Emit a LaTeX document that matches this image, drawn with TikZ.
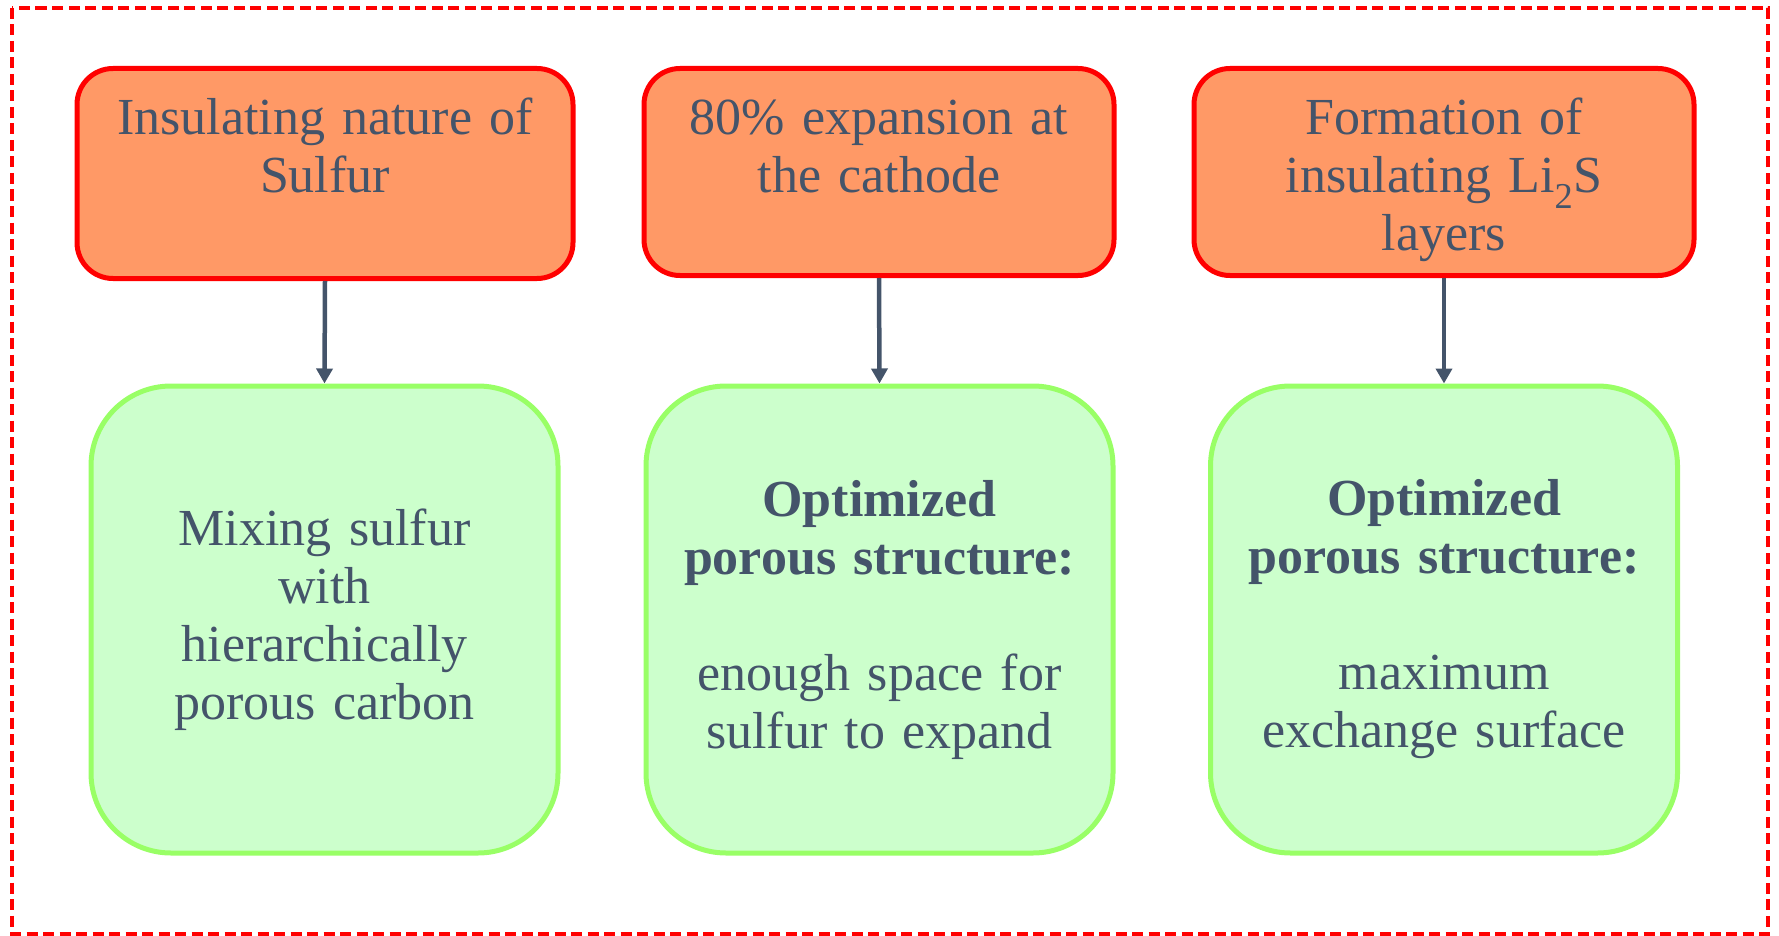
\documentclass[tikz,border=0pt]{standalone}
\usepackage{fontspec}
\setmainfont{Liberation Serif}
\usetikzlibrary{arrows.meta}
\definecolor{ofill}{HTML}{FF9966}
\definecolor{gfill}{HTML}{CCFFCC}
\definecolor{gline}{HTML}{99FF66}
\definecolor{txt}{HTML}{44546A}
\tikzset{
  basefont/.style={font=\fontsize{52}{58}\selectfont, text=txt, align=center},
  obox/.style={basefont, draw=red, fill=ofill, line width=5pt, rounded corners=36pt,
    inner xsep=10pt, inner ysep=0pt, text height=66pt, anchor=north},
  gbox/.style={basefont, draw=gline, fill=gfill, line width=5pt, rounded corners=80pt,
    minimum width=467pt, minimum height=467pt, text width=440pt, inner sep=0pt},
  conn/.style={draw=txt, line width=4.5pt, -{Triangle[width=16pt,length=15pt]}},
  frame/.style={draw=red, line width=4.5pt, dash pattern=on 11pt off 5.5pt}
}
\begin{document}
\begin{tikzpicture}[x=1pt,y=-1pt]
\useasboundingbox (0,0) rectangle (1779,936);
\draw[frame] (12,8) rectangle (1768,934);

\node[obox, text width=476pt, text depth=144pt] (o1) at (325,66) {Insulating nature of\\Sulfur};
\node[obox, text width=450pt, text depth=141pt] (o2) at (879,66) {80\% expansion at\\the cathode};
\node[obox, text width=480pt, text depth=141pt] (o3) at (1444,66) {Formation of\\insulating Li\textsubscript{2}S\\layers};

\node[gbox] (g1) at (324.5,619.5) {Mixing sulfur\\with\\hierarchically\\porous carbon};
\node[gbox] (g2) at (879.5,619.5) {\textbf{Optimized}\\\textbf{porous structure:}\\[58pt]enough space for\\sulfur to expand};
\node[gbox] (g3) at (1444,619.5) {\textbf{Optimized}\\\textbf{porous structure:}\\[58pt]maximum\\exchange surface};

\draw[conn] (o1.south) -- (g1.north);
\draw[conn] (o2.south) -- (g2.north);
\draw[conn] (o3.south) -- (g3.north);
\end{tikzpicture}
\end{document}
